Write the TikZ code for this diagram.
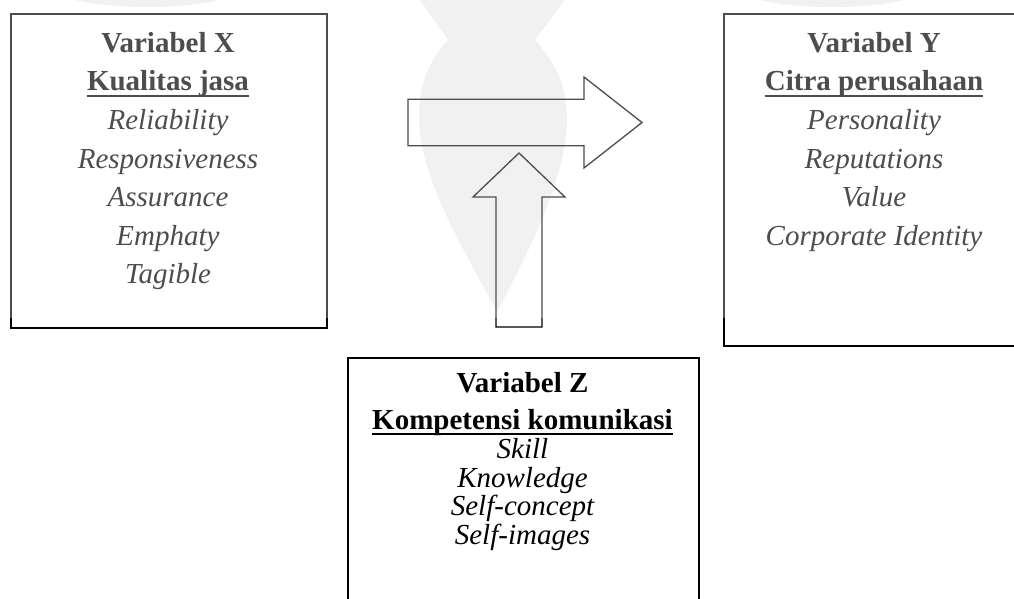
\documentclass[tikz,border=0pt]{standalone}
\usepackage{fontspec}
\setmainfont{Liberation Serif}
\definecolor{wmgray}{HTML}{EBEBEB}
\begin{document}
\begin{tikzpicture}[x=1pt,y=-1pt,
  box/.style={draw=black,line width=1.8pt,inner sep=0pt,anchor=north west},
  boldline/.style={font=\fontsize{29}{29}\selectfont\bfseries,anchor=base,inner sep=0pt},
  italline/.style={font=\fontsize{29}{29}\selectfont\itshape,anchor=base,inner sep=0pt},
  uline/.style={line width=1.8pt},
  blockarrow/.style={draw=black,line width=1.3pt,line join=miter},
  wm/.style={fill=wmgray,draw=none}]
\useasboundingbox (0,0) rectangle (1014,599);
\begin{scope}
\clip (0,0) rectangle (1014,599);
% watermark
\fill[wm] (420,0) -- (448,40) .. controls (425,65) and (419,90) .. (419,118)
  .. controls (419,180) and (470,260) .. (497,312)
  .. controls (524,260) and (567,180) .. (567,118)
  .. controls (567,90) and (558,65) .. (535,40) -- (565,0) -- cycle;
\fill[wm] (147,-20) ellipse [x radius=108, y radius=27];
\fill[wm] (832,-20) ellipse [x radius=108, y radius=27];
% boxes
\node[box,minimum width=316pt,minimum height=314pt] (boxX) at (10,13) {};
\node[box,minimum width=300pt,minimum height=332pt] (boxY) at (723,13) {};
\node[box,minimum width=351pt,minimum height=260pt] (boxZ) at (347,357) {};
% box X text
\node[boldline] (x1) at (168,52.5) {Variabel X};
\node[boldline] (x2) at (168,91) {Kualitas jasa};
\node[italline] (x3) at (168,129.5) {Reliability};
\node[italline] (x4) at (168,168) {Responsiveness};
\node[italline] (x5) at (168,206.5) {Assurance};
\node[italline] (x6) at (168,245) {Emphaty};
\node[italline] (x7) at (168,283.5) {Tagible};
\draw[uline] ([yshift=-5pt]x2.base west) -- ([yshift=-5pt]x2.base east);
% box Y text
\node[boldline] (y1) at (874,52.5) {Variabel Y};
\node[boldline] (y2) at (874,91) {Citra perusahaan};
\node[italline] (y3) at (874,129.5) {Personality};
\node[italline] (y4) at (874,168) {Reputations};
\node[italline] (y5) at (874,206.5) {Value};
\node[italline] (y6) at (874,245) {Corporate Identity};
\draw[uline] ([yshift=-5pt]y2.base west) -- ([yshift=-5pt]y2.base east);
% box Z text
\node[boldline] (z1) at (522.5,392) {Variabel Z};
\node[boldline] (z2) at (522.5,429) {Kompetensi komunikasi};
\node[italline] (z3) at (522.5,458) {Skill};
\node[italline] (z4) at (522.5,487) {Knowledge};
\node[italline] (z5) at (522.5,515.5) {Self-concept};
\node[italline] (z6) at (522.5,544) {Self-images};
\draw[uline] ([yshift=-5pt]z2.base west) -- ([yshift=-5pt]z2.base east);
% block arrows
\draw[blockarrow] (408,99.3) -- (584,99.3) -- (584,77) -- (642,122.5) -- (584,168)
  -- (584,145.7) -- (408,145.7) -- cycle;
\draw[blockarrow] (496,327) -- (496,197) -- (473,197) -- (519,153) -- (565,197)
  -- (542,197) -- (542,327) -- cycle;
% faded overlay of the upper band
\fill[white,fill opacity=0.3] (0,0) rectangle (1014,318);
\end{scope}
\end{tikzpicture}
\end{document}
